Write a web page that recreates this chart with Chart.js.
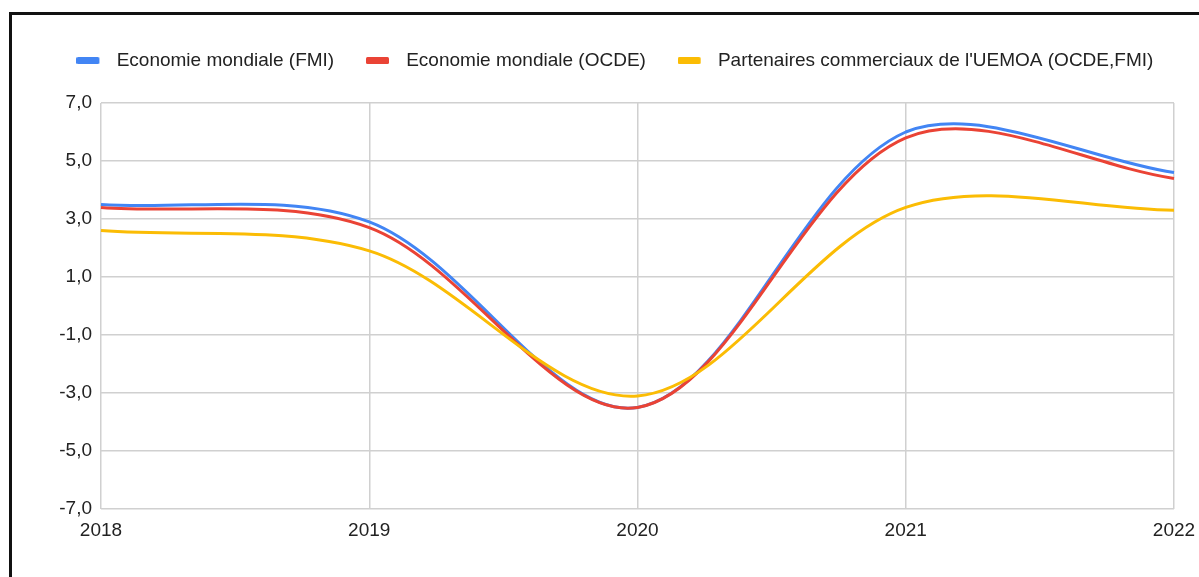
<!DOCTYPE html>
<html lang="fr">
<head>
<meta charset="utf-8">
<title>Croissance économique</title>
<script src="https://cdn.jsdelivr.net/npm/chart.js@4/dist/chart.umd.min.js"></script>
<style>
  html, body { margin: 0; padding: 0; background: #fff; overflow: hidden; }
  body { width: 1199px; height: 577px; position: relative; }
  #cadre {
    position: absolute; left: 9px; top: 12px;
    width: 1400px; height: 800px;
    border-left: 3px solid #111; border-top: 3px solid #111;
  }
  #graphCanvas { position: absolute; left: 0; top: 0; }
</style>
</head>
<body>
<div id="cadre"></div>
<canvas id="graphCanvas" width="1230" height="577"></canvas>
<script>
// Années et taux de croissance (%)
const annees = ['2018', '2019', '2020', '2021', '2022'];
const economieFMI = [3.5, 2.9, -3.5, 6.0, 4.6];
const economieOCDE = [3.4, 2.7, -3.5, 5.8, 4.4];
const partenairesUEMOA = [2.6, 1.9, -3.1, 3.4, 3.3];

const nomsSeries = [
    'Economie mondiale (FMI)',
    'Economie mondiale (OCDE)',
    "Partenaires commerciaux de l'UEMOA (OCDE,FMI)"
];
const couleurs = ['#4285F4', '#EA4335', '#FBBC04'];

const yMin = -7;
const yMax = 7;
const yPas = 2;

const police = "'Liberation Sans', Arial, sans-serif";

// Petit rectangle de couleur pour la légende (avec marge à droite avant le texte)
function creerPastille(couleur) {
    const c = document.createElement('canvas');
    c.width = 31;
    c.height = 7;
    const g = c.getContext('2d');
    g.fillStyle = couleur;
    g.beginPath();
    g.roundRect(0, 0, 23, 7, 1.5);
    g.fill();
    return c;
}

function serie(index, valeurs, ordre) {
    return {
        label: nomsSeries[index],
        data: valeurs,
        borderColor: couleurs[index],
        backgroundColor: couleurs[index],
        borderWidth: 3,
        pointRadius: 0,
        pointHoverRadius: 0,
        pointStyle: creerPastille(couleurs[index]),
        tension: 0.33,
        fill: false,
        order: ordre // la série UEMOA passe au-dessus
    };
}

// Laisse plus d'espace entre la légende et la zone du graphique
const espaceLegende = {
    id: 'espaceLegende',
    afterInit(chart) {
        const legende = chart.legend;
        const fitOrigine = legende.fit;
        legende.fit = function () {
            fitOrigine.call(this);
            this.height += 23;
        };
    }
};

const ctx = document.getElementById('graphCanvas').getContext('2d');

const chart = new Chart(ctx, {
    type: 'line',
    data: {
        labels: annees,
        datasets: [
            serie(0, economieFMI, 3),
            serie(1, economieOCDE, 2),
            serie(2, partenairesUEMOA, 1)
        ]
    },
    plugins: [espaceLegende],
    options: {
        responsive: false,
        animation: false,
        layout: { padding: { top: 19, left: 0, right: 0, bottom: 0 } },
        plugins: {
            tooltip: { enabled: false },
            legend: {
                position: 'top',
                align: 'center',
                labels: {
                    usePointStyle: true,
                    pointStyleWidth: 30.5,
                    padding: 32,
                    color: '#222',
                    font: { family: police, size: 19 },
                    sort: (a, b) => a.datasetIndex - b.datasetIndex
                }
            }
        },
        scales: {
            x: {
                grid: { color: '#d0d0d0', lineWidth: 1.5, drawTicks: false },
                border: { display: false },
                ticks: {
                    color: '#222',
                    padding: 10,
                    maxRotation: 0,
                    font: { family: police, size: 19 }
                },
                afterFit: (scale) => { scale.height = 68; }
            },
            y: {
                min: yMin,
                max: yMax,
                grid: { color: '#d0d0d0', lineWidth: 1.5, drawTicks: false },
                border: { display: false },
                ticks: {
                    stepSize: yPas,
                    padding: 9,
                    color: '#222',
                    font: { family: police, size: 19 },
                    callback: (v) => v.toFixed(1).replace('.', ',')
                },
                afterFit: (scale) => { scale.width = 101; }
            },
            // axe vide à droite, réserve la marge sans décaler la légende
            marge: {
                type: 'linear',
                position: 'right',
                grid: { display: false },
                border: { display: false },
                ticks: { display: false },
                afterFit: (scale) => { scale.width = 56; }
            }
        }
    }
});
</script>
</body>
</html>
